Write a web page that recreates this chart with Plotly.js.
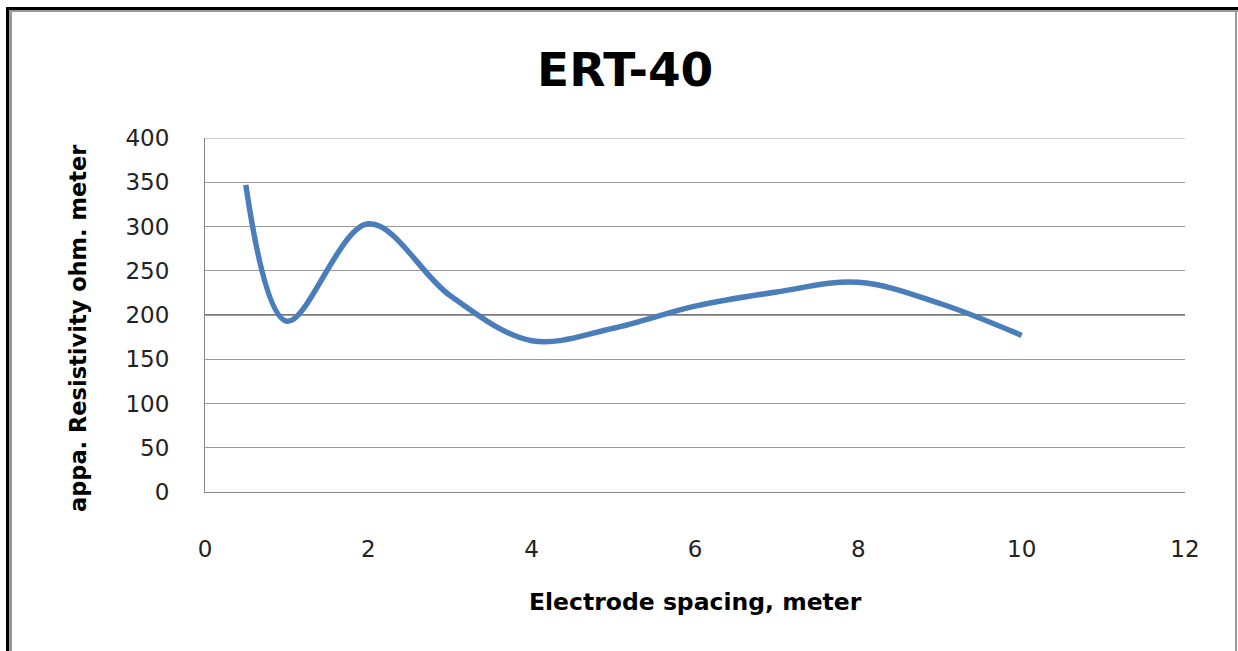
<!DOCTYPE html>
<html>
<head>
<meta charset="utf-8">
<script src="https://cdn.plot.ly/plotly-3.0.1.min.js"></script>
<style>
html,body{margin:0;padding:0;background:#fff;}
#wrap{position:relative;width:1238px;height:651px;overflow:hidden;}
#chart{position:absolute;left:0;top:0;width:1238px;height:651px;}
.b{position:absolute;pointer-events:none;}
</style>
</head>
<body>
<div id="wrap">
<div id="chart"></div>
<div class="b" style="left:6px;top:7px;width:3px;height:644px;background:#000;"></div>
<div class="b" style="left:6px;top:7px;width:1232px;height:3px;background:#000;"></div>
<div class="b" style="left:9px;top:10px;width:3px;height:641px;background:#9a9a9a;"></div>
<div class="b" style="left:9px;top:10px;width:1229px;height:2px;background:#9a9a9a;"></div>
<div class="b" style="left:1235px;top:10px;width:2px;height:641px;background:#9a9a9a;"></div>
</div>
<script>
var spacing = [0.5, 1, 2, 3, 4, 5, 6, 7, 8, 9, 10];
var resistivity = [347, 193, 303, 222, 171, 185, 210, 226, 237, 213, 177];
var xTicks = [0, 2, 4, 6, 8, 10, 12];
var yTicks = [0, 50, 100, 150, 200, 250, 300, 350, 400];
var chartTitle = "ERT-40";
var xTitle = "Electrode spacing, meter";
var yTitle = "appa. Resistivity ohm. meter";

var tickFont = {family: "DejaVu Sans", size: 23, color: "#222"};
var trace = {
  x: spacing, y: resistivity, type: "scatter", mode: "lines",
  line: {color: "#4A7EBB", width: 5.5, shape: "spline", smoothing: 1},
  hoverinfo: "x+y", showlegend: false
};
var layout = {
  width: 1238, height: 651,
  paper_bgcolor: "rgba(0,0,0,0)", plot_bgcolor: "#fff",
  margin: {l: 205, r: 53, t: 138, b: 159},
  title: {text: chartTitle, font: {family: "DejaVu Sans", size: 47, color: "#000", weight: "bold"},
          x: 0.505, xanchor: "center", y: 1 - 70/651, yanchor: "middle", xref: "container", yref: "container"},
  xaxis: {range: [0, 12], tickvals: xTicks, ticktext: xTicks.map(String), showgrid: false, zeroline: false,
          showline: true, linecolor: "#868686", linewidth: 1, ticks: "", tickfont: tickFont,
          ticklabelstandoff: 36, fixedrange: true},
  yaxis: {range: [0, 400], tickvals: yTicks, ticktext: yTicks.map(String), showgrid: true, gridcolor: "#9a9a9a",
          gridwidth: 1, zeroline: false, showline: true, linecolor: "#868686", linewidth: 1, ticks: "",
          tickfont: tickFont, ticklabelstandoff: 30, fixedrange: true},
  shapes: [
    {type: "line", xref: "paper", x0: 0, x1: 1, yref: "y", y0: 200, y1: 200,
     line: {color: "#7a7a7a", width: 2}, layer: "below"},
    {type: "line", xref: "paper", x0: 0, x1: 1, yref: "y", y0: 400, y1: 400,
     line: {color: "#9a9a9a", width: 1}, layer: "below"}
  ],
  annotations: [
    {text: xTitle, xref: "paper", x: 0.5, yref: "paper", y: (492 - 602)/354, xanchor: "center", yanchor: "middle",
     showarrow: false, font: {family: "DejaVu Sans", size: 23.5, color: "#000", weight: "bold"}},
    {text: yTitle, xref: "paper", x: (78 - 205)/980, yref: "paper", y: (492 - 328)/354, xanchor: "center", yanchor: "middle",
     textangle: -90, showarrow: false, font: {family: "DejaVu Sans", size: 22.5, color: "#000", weight: "bold"}}
  ]
};
Plotly.newPlot("chart", [trace], layout, {displayModeBar: false});
</script>
</body>
</html>
